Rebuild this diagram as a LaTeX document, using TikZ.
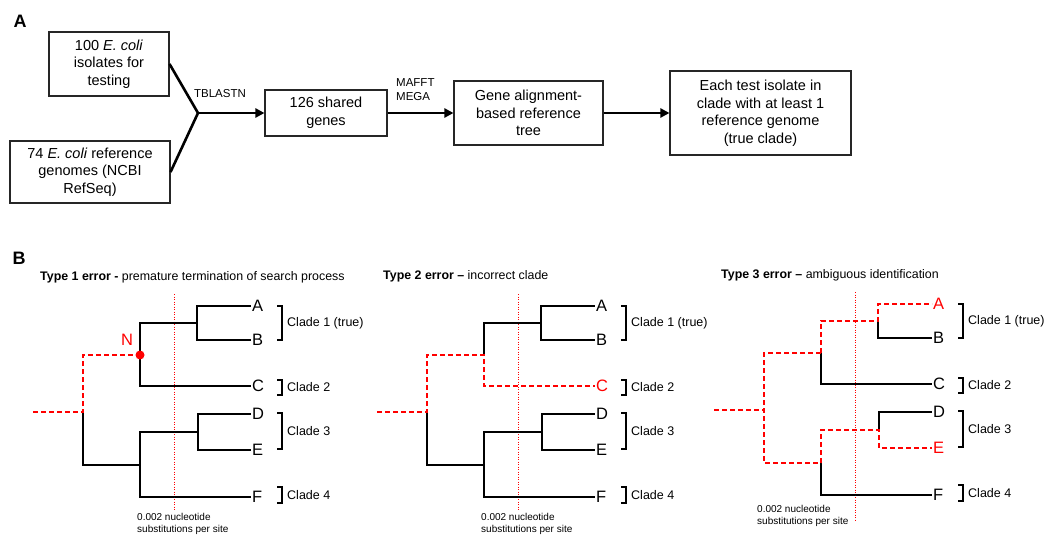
\documentclass[tikz,border=0pt]{standalone}
\usepackage{fontspec}
\setmainfont{Liberation Sans}
\usetikzlibrary{arrows.meta}
\begin{document}
\begin{tikzpicture}[x=1pt,y=-1pt,
  box/.style={draw=black!85, line width=1.1pt, align=center, font=\fontsize{14.5}{17.5}\selectfont, inner sep=0pt},
  flow/.style={line width=2.6pt, -{Triangle[length=9pt,width=9pt]}},
  joinline/.style={line width=2.6pt, line join=miter},
  lbl/.style={font=\fontsize{11.5}{14.5}\selectfont, inner sep=0pt},
  panel/.style={font=\fontsize{18}{18}\selectfont\bfseries, inner sep=0pt},
  ttl/.style={font=\fontsize{12.4}{14}\selectfont, inner sep=0pt, anchor=west},
  tree/.style={line width=1.8pt},
  rd/.style={red, line width=1.8pt, dash pattern=on 5pt off 3pt},
  cut/.style={red, line width=0.9pt, dash pattern=on 1pt off 1.5pt},
  tip/.style={anchor=west, inner sep=1pt, font=\fontsize{16.5}{16.5}\selectfont},
  cl/.style={anchor=west, inner sep=0pt, font=\fontsize{12.5}{15}\selectfont},
  brk/.style={line width=1.1pt},
  scl/.style={anchor=west, align=left, inner sep=0pt, font=\fontsize{10}{12}\selectfont},
]
\useasboundingbox (0,0) rectangle (1044,535);

% ---------------- Panel A ----------------
\node[panel] (pA) at (20,21) {A};
\node[box, minimum width=120pt, minimum height=64pt] (b1) at (109,64) {100 \textit{E. coli}\\isolates for\\testing};
\node[box, minimum width=160pt, minimum height=62pt] (b2) at (90,172) {74 \textit{E. coli} reference\\genomes (NCBI\\RefSeq)};
\node[box, minimum width=122pt, minimum height=46pt] (b3) at (326,113) {126 shared\\genes};
\node[box, minimum width=149pt, minimum height=64pt] (b4) at (528.5,113) {Gene alignment-\\based reference\\tree};
\node[box, minimum width=181pt, minimum height=84pt] (b5) at (760.5,113) {Each test isolate in\\clade with at least 1\\reference genome\\(true clade)};
\coordinate (J) at (198,113);
\draw[joinline] (b1.east) -- (J) -- (b2.east);
\draw[flow] (J) -- (b3.west);
\draw[flow] (b3.east) -- (b4.west);
\draw[flow] (b4.east) -- (b5.west);
\node[lbl] (l1) at (220,94) {TBLASTN};
\node[lbl, anchor=west, align=left] (l2) at (396,89.5) {MAFFT\\MEGA};

% ---------------- Panel B ----------------
\node[panel] (pB) at (19,258) {B};
\node[ttl] (ti1) at (40,277) {\textbf{Type 1 error -} premature termination of search process};
\node[ttl] (ti2) at (383,276) {\textbf{Type 2 error --} incorrect clade};
\node[ttl] (ti3) at (721,275) {\textbf{Type 3 error --} ambiguous identification};

% ---- Tree 1 ----
\begin{scope}
\node[tip] (t1A) at (251,306) {A};
\node[tip] (t1B) at (251,340) {B};
\node[tip] (t1C) at (251,386) {C};
\node[tip] (t1D) at (251,414) {D};
\node[tip] (t1E) at (251,450) {E};
\node[tip] (t1F) at (251,497) {F};
\coordinate (t1ab) at (197,323);
\coordinate (t1de) at (198,432);
\coordinate (t1n1) at (140,355);
\coordinate (t1n2) at (140,465);
\coordinate (t1r) at (83,412);
\coordinate (t1in) at (33,412);
\draw[cut] (174,294) -- (174,510);
\draw[tree] (t1ab) |- (t1A.west);
\draw[tree] (t1ab) |- (t1B.west);
\draw[tree] (t1n1) |- (t1ab);
\draw[tree] (t1n1) |- (t1C.west);
\draw[tree] (t1de) |- (t1D.west);
\draw[tree] (t1de) |- (t1E.west);
\draw[tree] (t1n2) |- (t1de);
\draw[tree] (t1n2) |- (t1F.west);
\draw[tree] (t1r) |- (t1n2);
\draw[rd] (t1in) -- (t1r) |- (t1n1);
\fill[red] (t1n1) circle (4.5pt);
\node[red, font=\fontsize{16.5}{16.5}\selectfont, inner sep=0pt] (t1N) at (127,340) {N};
\draw[brk] (277,306) -- (282,306) -- (282,340) -- (277,340);
\draw[brk] (277,380) -- (282,380) -- (282,395) -- (277,395);
\draw[brk] (277,413) -- (282,413) -- (282,449) -- (277,449);
\draw[brk] (277,487) -- (282,487) -- (282,503) -- (277,503);
\node[cl] (t1c1) at (287,323) {Clade 1 (true)};
\node[cl] (t1c2) at (287,387) {Clade 2};
\node[cl] (t1c3) at (287,431) {Clade 3};
\node[cl] (t1c4) at (287,495) {Clade 4};
\node[scl] (t1s) at (137,524) {0.002 nucleotide\\substitutions per site};
\end{scope}

% ---- Tree 2 ----
\begin{scope}[shift={(344,0)}]
\node[tip] (t2A) at (251,306) {A};
\node[tip] (t2B) at (251,340) {B};
\node[tip, red] (t2C) at (251,386) {C};
\node[tip] (t2D) at (251,414) {D};
\node[tip] (t2E) at (251,450) {E};
\node[tip] (t2F) at (251,497) {F};
\coordinate (t2ab) at (197,323);
\coordinate (t2de) at (198,432);
\coordinate (t2n1) at (140,355);
\coordinate (t2n2) at (140,465);
\coordinate (t2r) at (83,412);
\coordinate (t2in) at (33,412);
\draw[cut] (174,294) -- (174,510);
\draw[tree] (t2ab) |- (t2A.west);
\draw[tree] (t2ab) |- (t2B.west);
\draw[tree] (t2n1) |- (t2ab);
\draw[tree] (t2de) |- (t2D.west);
\draw[tree] (t2de) |- (t2E.west);
\draw[tree] (t2n2) |- (t2de);
\draw[tree] (t2n2) |- (t2F.west);
\draw[tree] (t2r) |- (t2n2);
\draw[rd] (t2in) -- (t2r) |- (t2n1) |- (t2C.west);
\draw[brk] (277,306) -- (282,306) -- (282,340) -- (277,340);
\draw[brk] (277,380) -- (282,380) -- (282,395) -- (277,395);
\draw[brk] (277,413) -- (282,413) -- (282,449) -- (277,449);
\draw[brk] (277,487) -- (282,487) -- (282,503) -- (277,503);
\node[cl] (t2c1) at (287,323) {Clade 1 (true)};
\node[cl] (t2c2) at (287,387) {Clade 2};
\node[cl] (t2c3) at (287,431) {Clade 3};
\node[cl] (t2c4) at (287,495) {Clade 4};
\node[scl] (t2s) at (137,524) {0.002 nucleotide\\substitutions per site};
\end{scope}

% ---- Tree 3 ----
\begin{scope}[shift={(681,-2)}]
\node[tip, red] (t3A) at (251,306) {A};
\node[tip] (t3B) at (251,340) {B};
\node[tip] (t3C) at (251,386) {C};
\node[tip] (t3D) at (251,414) {D};
\node[tip, red] (t3E) at (251,450) {E};
\node[tip] (t3F) at (251,497) {F};
\coordinate (t3ab) at (197,323);
\coordinate (t3de) at (198,432);
\coordinate (t3n1) at (140,355);
\coordinate (t3n2) at (140,465);
\coordinate (t3r) at (83,412);
\coordinate (t3in) at (33,412);
\draw[cut] (174,294) -- (174,522);
\draw[tree] (t3ab) |- (t3B.west);
\draw[tree] (t3n1) |- (t3C.west);
\draw[tree] (t3de) |- (t3D.west);
\draw[tree] (t3n2) |- (t3F.west);
\draw[rd] (t3in) -- (t3r);
\draw[rd] (t3n1) -| (t3r) |- (t3n2);
\draw[rd] (t3n1) |- (t3ab) |- (t3A.west);
\draw[rd] (t3n2) |- (t3de) |- (t3E.west);
\draw[brk] (277,306) -- (282,306) -- (282,340) -- (277,340);
\draw[brk] (277,380) -- (282,380) -- (282,395) -- (277,395);
\draw[brk] (277,413) -- (282,413) -- (282,449) -- (277,449);
\draw[brk] (277,487) -- (282,487) -- (282,503) -- (277,503);
\node[cl] (t3c1) at (287,323) {Clade 1 (true)};
\node[cl] (t3c2) at (287,387) {Clade 2};
\node[cl] (t3c3) at (287,431) {Clade 3};
\node[cl] (t3c4) at (287,495) {Clade 4};
\end{scope}
\node[scl] (t3s) at (757,516) {0.002 nucleotide\\substitutions per site};
\end{tikzpicture}
\end{document}
